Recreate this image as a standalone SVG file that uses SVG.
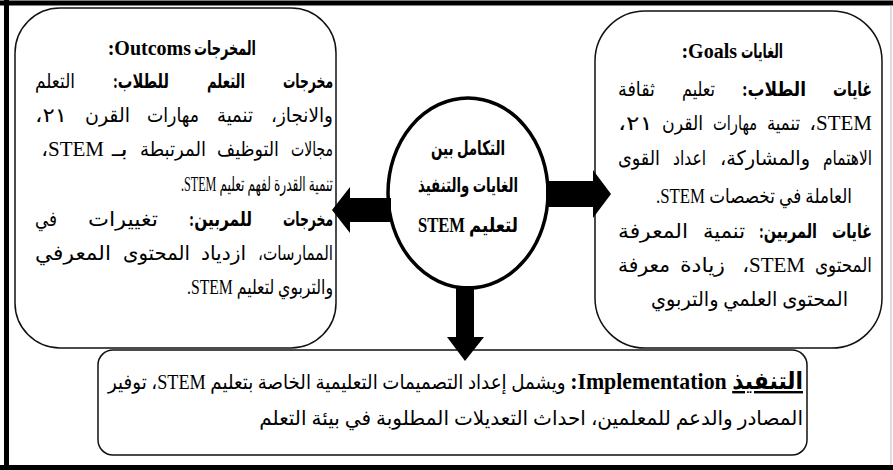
<svg xmlns="http://www.w3.org/2000/svg" width="893" height="470" viewBox="0 0 893 470">
  <style>
    .box { fill: #fff; stroke: #111; stroke-width: 1.5; }
    .frame { stroke: #000; stroke-width: 5; }
    .t { font-family: 'Liberation Serif', 'DejaVu Sans', serif; font-size: 20px; fill: #000; text-anchor: start; }
    .lat { font-size: 21px; }
    .b { font-weight: bold; }
    .m { text-anchor: middle; }
    .arrow { fill: #000; }
  </style>

  <rect width="893" height="470" fill="#fff"/>
  <!-- page frame -->
  <g id="frame">
    <line class="frame" x1="0" y1="3" x2="893" y2="3"/>
    <line class="frame" x1="6.5" y1="0" x2="6.5" y2="470"/>
    <line class="frame" x1="0" y1="467.5" x2="893" y2="467.5"/>
    <line x1="891" y1="5" x2="891" y2="465" stroke="#bbb" stroke-width="1"/>
  </g>

  <!-- outcomes (right-to-left, justified lines) -->
  <g id="outcomes">
    <rect class="box" x="15" y="8" width="321" height="340" rx="45" ry="45"/>
    <text class="t b" direction="rtl" x="256" y="55" textLength="62" lengthAdjust="spacingAndGlyphs">المخرجات</text>
    <text class="t b" direction="rtl" x="191" y="55" font-size="19">Outcoms:</text>

    <text class="t b" direction="rtl" x="333" y="88" textLength="50" lengthAdjust="spacingAndGlyphs">مخرجات</text>
    <text class="t b" direction="rtl" x="245" y="88" textLength="38" lengthAdjust="spacingAndGlyphs">التعلم</text>
    <text class="t b" direction="rtl" x="169" y="88" textLength="56" lengthAdjust="spacingAndGlyphs">للطلاب:</text>
    <text class="t" direction="rtl" x="75" y="88" textLength="40" lengthAdjust="spacingAndGlyphs">التعلم</text>

    <text class="t" direction="rtl" x="333" y="122" textLength="62" lengthAdjust="spacingAndGlyphs">والانجاز،</text>
    <text class="t" direction="rtl" x="253" y="122" textLength="36" lengthAdjust="spacingAndGlyphs">تنمية</text>
    <text class="t" direction="rtl" x="199" y="122" textLength="52" lengthAdjust="spacingAndGlyphs">مهارات</text>
    <text class="t" direction="rtl" x="130" y="122" textLength="45" lengthAdjust="spacingAndGlyphs">القرن</text>
    <text class="t" direction="rtl" x="67" y="122" textLength="32" lengthAdjust="spacingAndGlyphs">٢١،</text>

    <text class="t" direction="rtl" x="333" y="156" textLength="42" lengthAdjust="spacingAndGlyphs">مجالات</text>
    <text class="t" direction="rtl" x="279" y="156" textLength="62" lengthAdjust="spacingAndGlyphs">التوظيف</text>
    <text class="t" direction="rtl" x="206" y="156" textLength="66" lengthAdjust="spacingAndGlyphs">المرتبطة</text>
    <text class="t" direction="rtl" x="128" y="156" textLength="16" lengthAdjust="spacingAndGlyphs">بـ</text>
    <text class="t lat" direction="rtl" x="104" y="156">STEM،</text>

    <text class="t" direction="rtl" x="333" y="191" font-size="21" textLength="152" lengthAdjust="spacingAndGlyphs">تنمية القدرة لفهم تعليم STEM.</text>

    <text class="t b" direction="rtl" x="333" y="226" textLength="50" lengthAdjust="spacingAndGlyphs">مخرجات</text>
    <text class="t b" direction="rtl" x="252" y="226" textLength="63" lengthAdjust="spacingAndGlyphs">للمربين:</text>
    <text class="t" direction="rtl" x="158" y="226" textLength="70" lengthAdjust="spacingAndGlyphs">تغييرات</text>
    <text class="t" direction="rtl" x="57" y="226" textLength="22" lengthAdjust="spacingAndGlyphs">في</text>

    <text class="t" direction="rtl" x="333" y="260" textLength="75" lengthAdjust="spacingAndGlyphs">الممارسات،</text>
    <text class="t" direction="rtl" x="246" y="260" textLength="45" lengthAdjust="spacingAndGlyphs">ازدياد</text>
    <text class="t" direction="rtl" x="190" y="260" textLength="67" lengthAdjust="spacingAndGlyphs">المحتوى</text>
    <text class="t" direction="rtl" x="111" y="260" textLength="76" lengthAdjust="spacingAndGlyphs">المعرفي</text>

    <text class="t" direction="rtl" x="333" y="294" font-size="21" textLength="146" lengthAdjust="spacingAndGlyphs">والتربوي لتعليم STEM.</text>
  </g>

  <!-- goals (right-to-left, justified lines) -->
  <g id="goals">
    <rect class="box" x="595" y="11" width="287" height="337" rx="50" ry="50"/>
    <text class="t b" direction="rtl" x="783" y="58" textLength="42" lengthAdjust="spacingAndGlyphs">الغايات</text>
    <text class="t b" direction="rtl" x="737" y="58" font-size="19">Goals:</text>

    <text class="t b" direction="rtl" x="872" y="96" textLength="39" lengthAdjust="spacingAndGlyphs">غايات</text>
    <text class="t b" direction="rtl" x="806" y="96" textLength="64" lengthAdjust="spacingAndGlyphs">الطلاب:</text>
    <text class="t" direction="rtl" x="715" y="96" textLength="33" lengthAdjust="spacingAndGlyphs">تعليم</text>
    <text class="t" direction="rtl" x="655" y="96" textLength="37" lengthAdjust="spacingAndGlyphs">ثقافة</text>

    <text class="t lat" direction="rtl" x="872" y="130">STEM،</text>
    <text class="t" direction="rtl" x="800" y="130" textLength="33" lengthAdjust="spacingAndGlyphs">تنمية</text>
    <text class="t" direction="rtl" x="757" y="130" textLength="44" lengthAdjust="spacingAndGlyphs">مهارات</text>
    <text class="t" direction="rtl" x="703" y="130" textLength="41" lengthAdjust="spacingAndGlyphs">القرن</text>
    <text class="t" direction="rtl" x="653" y="130" textLength="35" lengthAdjust="spacingAndGlyphs">٢١،</text>

    <text class="t" direction="rtl" x="872" y="165" textLength="49" lengthAdjust="spacingAndGlyphs">الاهتمام</text>
    <text class="t" direction="rtl" x="810" y="165" textLength="90" lengthAdjust="spacingAndGlyphs">والمشاركة،</text>
    <text class="t" direction="rtl" x="706" y="165" textLength="33" lengthAdjust="spacingAndGlyphs">اعداد</text>
    <text class="t" direction="rtl" x="660" y="165" textLength="42" lengthAdjust="spacingAndGlyphs">القوى</text>

    <text class="t" direction="rtl" x="852" y="203" textLength="196" lengthAdjust="spacingAndGlyphs">العاملة في تخصصات STEM.</text>

    <text class="t b" direction="rtl" x="872" y="238" textLength="40" lengthAdjust="spacingAndGlyphs">غايات</text>
    <text class="t b" direction="rtl" x="817" y="238" textLength="58" lengthAdjust="spacingAndGlyphs">المربين:</text>
    <text class="t" direction="rtl" x="745" y="238" textLength="42" lengthAdjust="spacingAndGlyphs">تنمية</text>
    <text class="t" direction="rtl" x="688" y="238" textLength="70" lengthAdjust="spacingAndGlyphs">المعرفة</text>

    <text class="t" direction="rtl" x="872" y="272" textLength="57" lengthAdjust="spacingAndGlyphs">المحتوى</text>
    <text class="t lat" direction="rtl" x="805" y="272">STEM،</text>
    <text class="t" direction="rtl" x="725" y="272" textLength="45" lengthAdjust="spacingAndGlyphs">زيادة</text>
    <text class="t" direction="rtl" x="670" y="272" textLength="52" lengthAdjust="spacingAndGlyphs">معرفة</text>

    <text class="t" direction="rtl" x="848" y="306" textLength="197" lengthAdjust="spacingAndGlyphs">المحتوى العلمي والتربوي</text>
  </g>

  <!-- central node -->
  <g id="integration">
    <ellipse cx="468" cy="193" rx="80" ry="95" fill="#fff" stroke="#000" stroke-width="3.5"/>
    <text class="t b m" direction="rtl" x="468" y="155" font-size="19" textLength="74" lengthAdjust="spacingAndGlyphs">التكامل بين</text>
    <text class="t b m" direction="rtl" x="468" y="192" font-size="19" textLength="100" lengthAdjust="spacingAndGlyphs">الغايات والتنفيذ</text>
    <text class="t b m" direction="rtl" x="468" y="232" font-size="20" textLength="100" lengthAdjust="spacingAndGlyphs">لتعليم STEM</text>
  </g>

  <!-- implementation -->
  <g id="implementation">
    <rect class="box" x="98" y="350" width="709" height="105" rx="15" ry="15"/>
    <text class="t" direction="rtl" x="803" y="389" font-size="18" textLength="695" lengthAdjust="spacingAndGlyphs"><tspan class="b" font-size="24" text-decoration="underline">التنفيذ</tspan><tspan class="b" font-size="24"> Implementation:</tspan> ويشمل إعداد التصميمات التعليمية الخاصة بتعليم STEM، توفير</text>
    <text class="t" direction="rtl" x="803" y="425" font-size="17">المصادر والدعم للمعلمين، احداث التعديلات المطلوبة في بيئة التعلم</text>
  </g>

  <!-- connectors -->
  <g id="connectors">
    <polygon class="arrow" points="391,198 350,198 350,187 332,210 350,233 350,222 391,222"/>
    <polygon class="arrow" points="546,181 593,181 593,170 611,194 593,218 593,207 546,207"/>
    <polygon class="arrow" points="456,286 474,286 474,337 484,337 465,361 447,337 456,337"/>
  </g>
</svg>
